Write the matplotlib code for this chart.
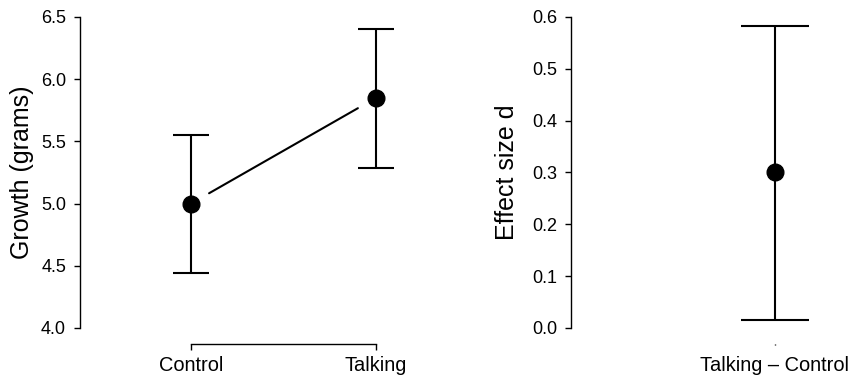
import matplotlib
matplotlib.use("Agg")
import matplotlib.pyplot as plt

plt.rcParams["font.family"] = ["Liberation Sans", "DejaVu Sans"]

groups = ["Control", "Talking"]
means = [5.00, 5.85]
ci_low = [4.44, 5.29]
ci_high = [5.55, 6.40]

effect_label = ["Talking \u2013 Control"]
effect_d = [0.30]
effect_low = [0.016]
effect_high = [0.583]

W, H = 851, 378
fig = plt.figure(figsize=(W / 100, H / 100), dpi=100)


def style(ax, yticks, fmt):
    for side in ("top", "right"):
        ax.spines[side].set_visible(False)
    ax.spines["left"].set_bounds(yticks[0], yticks[-1])
    ax.spines["bottom"].set_position(("outward", 11.5))
    for side in ("left", "bottom"):
        ax.spines[side].set_linewidth(1.0)
    ax.set_yticks(yticks)
    ax.set_yticklabels([fmt % v for v in yticks])
    ax.tick_params(axis="y", length=4, width=1.0, pad=6, labelsize=13)
    ax.tick_params(axis="x", width=1.0, labelsize=14.4)


# left panel: group means
ax1 = fig.add_axes([80 / W, 50 / H, 330 / W, 311 / H])
x1 = list(range(len(groups)))
yerr = [[m - lo for m, lo in zip(means, ci_low)], [hi - m for m, hi in zip(means, ci_high)]]
ax1.errorbar(x1, means, yerr=yerr, fmt="o", color="black", ms=12, elinewidth=1.5,
             capsize=13, capthick=1.5, clip_on=False, zorder=3)
ax1.annotate("", xy=(x1[1], means[1]), xytext=(x1[0], means[0]),
             arrowprops=dict(arrowstyle="-", color="black", lw=1.5, shrinkA=15, shrinkB=15))
ax1.set_xlim(-0.6, 1.184)
ax1.set_ylim(4.0, 6.5)
style(ax1, [4.0, 4.5, 5.0, 5.5, 6.0, 6.5], "%.1f")
ax1.spines["bottom"].set_bounds(x1[0], x1[-1])
ax1.set_xticks(x1)
ax1.set_xticklabels(groups)
ax1.tick_params(axis="x", length=4, pad=4.5)
ax1.set_ylabel("Growth (grams)", fontsize=18, labelpad=5)

# right panel: effect size
ax2 = fig.add_axes([571 / W, 50 / H, 260 / W, 311 / H])
x2 = [0]
yerr2 = [[effect_d[0] - effect_low[0]], [effect_high[0] - effect_d[0]]]
ax2.errorbar(x2, effect_d, yerr=yerr2, fmt="o", color="black", ms=12, elinewidth=1.5,
             capsize=24.5, capthick=1.5, clip_on=False, zorder=3)
ax2.set_xlim(-1.0, 0.275)
ax2.set_ylim(0.0, 0.6)
style(ax2, [0.0, 0.1, 0.2, 0.3, 0.4, 0.5, 0.6], "%.1f")
ax2.spines["bottom"].set_bounds(x2[0], x2[0])
ax2.set_xticks(x2)
ax2.set_xticklabels(effect_label)
ax2.tick_params(axis="x", length=1, pad=7.5)
ax2.set_ylabel("Effect size d", fontsize=18, labelpad=9)

fig.savefig("out.png", dpi=100)
